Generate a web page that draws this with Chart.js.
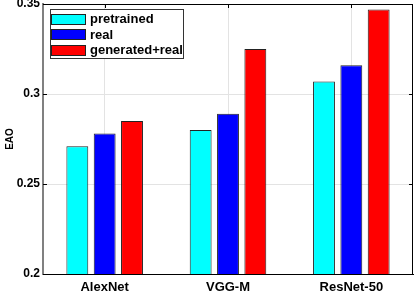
<!DOCTYPE html>
<html>
<head>
<meta charset="utf-8">
<script src="https://cdn.jsdelivr.net/npm/chart.js@4.4.1/dist/chart.umd.min.js"></script>
<style>
html,body{margin:0;padding:0;background:#fff;}
canvas{display:block;}
</style>
</head>
<body>
<canvas id="c" width="415" height="291"></canvas>
<script>
const categories = ['AlexNet', 'VGG-M', 'ResNet-50'];
const seriesNames = ['pretrained', 'real', 'generated+real'];
const pretrained = [0.271, 0.280, 0.307];
const real = [0.278, 0.289, 0.316];
const generatedReal = [0.285, 0.325, 0.347];
const yTickValues = [0.2, 0.25, 0.3, 0.35];
const yTickLabels = ['0.2', '0.25', '0.3', '0.35'];
const colors = ['#00ffff', '#0000ff', '#ff0000'];

const FONT = '"Liberation Sans", Arial, Helvetica, sans-serif';

const framePlugin = {
  id: 'frame',
  afterDatasetsDraw(chart) {
    const ctx = chart.ctx;
    const a = chart.chartArea;
    const xs = chart.scales.x, ys = chart.scales.y;
    ctx.save();
    ctx.strokeStyle = '#000';
    ctx.lineWidth = 1;
    ctx.beginPath();
    ctx.moveTo(a.left, a.top + 0.5);
    ctx.lineTo(a.right, a.top + 0.5);
    ctx.moveTo(a.right - 0.5, a.top);
    ctx.lineTo(a.right - 0.5, a.bottom);
    ctx.stroke();
    const tl = 4;
    ctx.beginPath();
    yTickValues.forEach(v => {
      const py = Math.round(ys.getPixelForValue(v)) + 0.5;
      ctx.moveTo(a.left, py); ctx.lineTo(a.left + tl, py);
      ctx.moveTo(a.right, py); ctx.lineTo(a.right - tl, py);
    });
    categories.forEach((c, i) => {
      const px = Math.round(xs.getPixelForValue(i)) + 0.5;
      ctx.moveTo(px, a.top); ctx.lineTo(px, a.top + tl);
    });
    ctx.stroke();
    const lx = 50, ly = 9, lw = 134, lh = 50;
    ctx.fillStyle = '#fff';
    ctx.fillRect(lx, ly, lw, lh);
    ctx.strokeStyle = '#333';
    ctx.strokeRect(lx + 0.5, ly + 0.5, lw - 1, lh - 1);
    ctx.font = 'bold 13px ' + FONT;
    ctx.textBaseline = 'middle';
    ctx.textAlign = 'left';
    chart.data.datasets.forEach((ds, i) => {
      const cy = 19 + i * 15.5;
      ctx.fillStyle = ds.backgroundColor;
      ctx.fillRect(51, Math.round(cy - 5.5), 35, 11);
      ctx.strokeStyle = '#222';
      ctx.strokeRect(51.5, Math.round(cy - 5.5) + 0.5, 34, 10);
      ctx.fillStyle = '#000';
      ctx.fillText(ds.label, 90, cy + 0.5);
    });
    ctx.restore();
  }
};

new Chart(document.getElementById('c'), {
  type: 'bar',
  data: {
    labels: categories,
    datasets: [
      { label: seriesNames[0], data: pretrained, backgroundColor: colors[0] },
      { label: seriesNames[1], data: real, backgroundColor: colors[1] },
      { label: seriesNames[2], data: generatedReal, backgroundColor: colors[2] }
    ].map(d => Object.assign(d, { borderColor: '#222', borderWidth: 1, borderSkipped: 'start' }))
  },
  options: {
    responsive: false,
    animation: false,
    devicePixelRatio: 1,
    layout: { padding: { top: 4, right: 2, left: 0, bottom: 0 } },
    categoryPercentage: 0.665,
    barPercentage: 0.8,
    plugins: { legend: { display: false }, tooltip: { enabled: false }, title: { display: false } },
    scales: {
      x: {
        grid: { offset: false, color: '#e3e3e3', drawTicks: false },
        border: { color: '#000', width: 1 },
        ticks: { color: '#000', font: { family: FONT, size: 13, weight: 'bold' }, padding: 6, maxRotation: 0 },
        afterFit(s) { s.height = 17; s.paddingLeft = 0; s.paddingRight = 0; }
      },
      y: {
        min: 0.2, max: 0.35,
        afterBuildTicks(s) { s.ticks = yTickValues.map(v => ({ value: v })); },
        grid: { color: '#e3e3e3', drawTicks: false },
        border: { color: '#808080', width: 2 },
        ticks: {
          color: '#000', font: { family: FONT, size: 12, weight: 'bold' }, padding: 3,
          callback(v, i) { return yTickLabels[i]; }
        },
        title: { display: true, text: 'EAO', color: '#000', font: { family: FONT, size: 10, weight: 'bold' }, padding: { top: 4, bottom: 0 } },
        afterFit(s) { s.width = 43; s.paddingTop = 0; s.paddingBottom = 0; }
      }
    }
  },
  plugins: [framePlugin]
});
</script>
</body>
</html>
